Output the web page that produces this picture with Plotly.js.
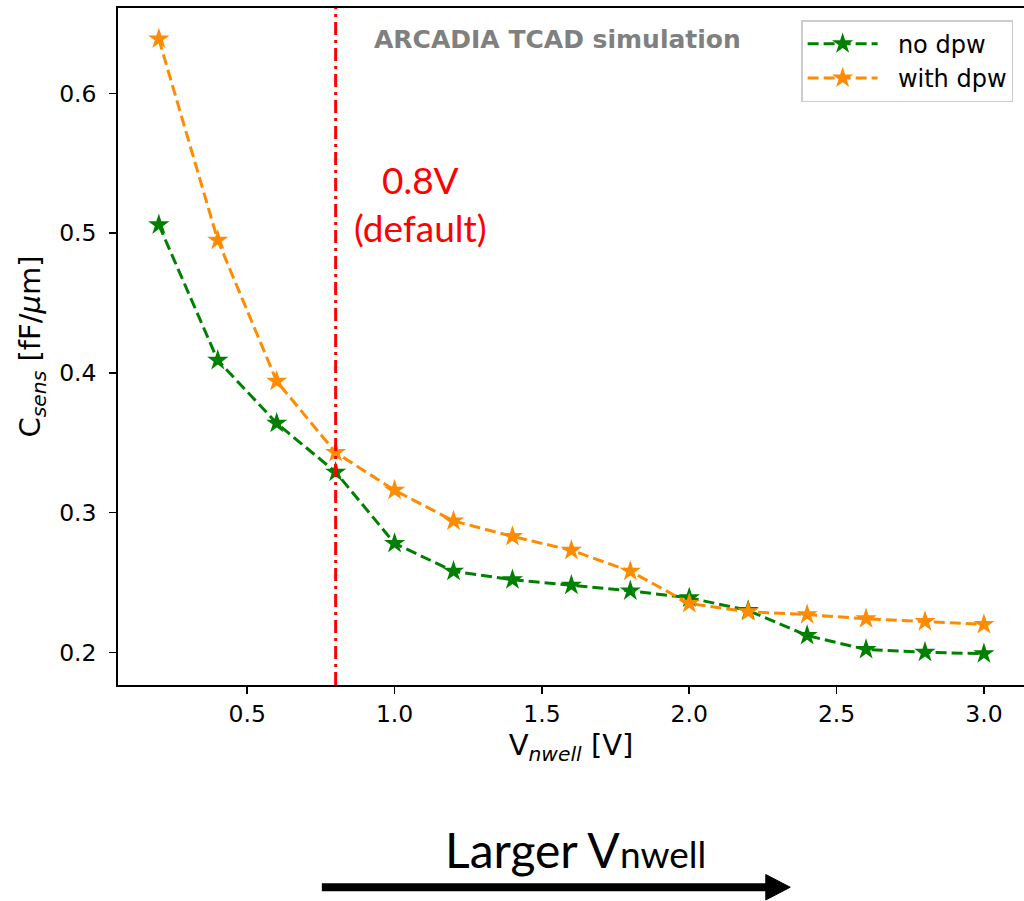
<!DOCTYPE html>
<html>
<head>
<meta charset="utf-8">
<script src="https://cdn.plot.ly/plotly-3.0.1.min.js"></script>
<style>
  html, body { margin: 0; padding: 0; background: #fff; }
  #chart { width: 1024px; height: 901px; }
</style>
</head>
<body>
<div id="chart"></div>
<script>
// Sensor capacitance versus n-well bias voltage
const vNwell = [0.2, 0.4, 0.6, 0.8, 1.0, 1.2, 1.4, 1.6, 1.8, 2.0, 2.2, 2.4, 2.6, 2.8, 3.0];
const csensNoDpw = [0.506, 0.409, 0.364, 0.329, 0.278, 0.258, 0.252, 0.248, 0.244, 0.239, 0.230, 0.212, 0.202, 0.200, 0.199];
const csensWithDpw = [0.639, 0.495, 0.394, 0.343, 0.316, 0.294, 0.283, 0.273, 0.258, 0.235, 0.229, 0.227, 0.224, 0.222, 0.220];
const seriesNames = ['no dpw', 'with dpw'];
const defaultBias = 0.8;
const yTicks = [0.2, 0.3, 0.4, 0.5, 0.6];
const xTicks = [0.5, 1.0, 1.5, 2.0, 2.5, 3.0];

const axisFont = { family: 'DejaVu Sans', size: 23.5, color: '#000' };
const labelFont = { family: 'DejaVu Sans', size: 29, color: '#000' };

// non-breaking spaces keep a gap between the legend sample and its label
const legendGap = '\u00a0\u00a0';

function series(y, name, color) {
  return {
    x: vNwell, y: y, name: legendGap + name, type: 'scatter', mode: 'lines+markers',
    line: { color: color, width: 3, dash: '11px,5px' },
    marker: { symbol: 'star', size: 16, color: color, line: { width: 0 } }
  };
}

const traces = [
  series(csensNoDpw, seriesNames[0], '#008000'),
  series(csensWithDpw, seriesNames[1], '#ff8c00')
];

const layout = {
  width: 1024, height: 901,
  margin: { l: 118, r: 0, t: 8, b: 216 },
  paper_bgcolor: '#fff', plot_bgcolor: '#fff',
  showlegend: true,
  legend: {
    x: 0.988, y: 0.982, xanchor: 'right', yanchor: 'top',
    bgcolor: '#fff', bordercolor: '#cccccc', borderwidth: 1.5,
    font: { family: 'DejaVu Sans', size: 24, color: '#000' },
    itemwidth: 70
  },
  xaxis: {
    range: [0.0614, 3.136],
    tickvals: xTicks, ticktext: xTicks.map(v => v.toFixed(1)),
    ticks: 'outside', ticklen: 7, tickwidth: 1.6, tickcolor: '#000',
    showline: true, linecolor: '#000', linewidth: 1.8, mirror: true,
    showgrid: false, zeroline: false,
    tickfont: axisFont,
    title: { text: 'V<sub><i>nwell</i></sub> [V]', font: labelFont, standoff: 8 }
  },
  yaxis: {
    range: [0.1766, 0.6612],
    tickvals: yTicks, ticktext: yTicks.map(v => v.toFixed(1)),
    ticks: 'outside', ticklen: 7, tickwidth: 1.6, tickcolor: '#000',
    showline: true, linecolor: '#000', linewidth: 1.8,
    showgrid: false, zeroline: false,
    ticklabelstandoff: 8,
    tickfont: axisFont,
    title: { text: 'C<sub><i>sens</i></sub> [fF/<i>μ</i>m]', font: labelFont, standoff: 10 }
  },
  shapes: [
    {
      type: 'line', xref: 'x', yref: 'paper', x0: defaultBias, x1: defaultBias, y0: 0, y1: 1,
      line: { color: '#ff0000', width: 3, dash: '13px,5px,3px,5px' }
    },
    {
      type: 'line', xref: 'paper', yref: 'paper', x0: 0.225, x1: 0.72, y0: -0.2987, y1: -0.2987,
      line: { color: '#000', width: 8 }
    },
    {
      type: 'path', xref: 'paper', yref: 'paper',
      path: 'M 0.715 -0.280 L 0.742 -0.2987 L 0.715 -0.3175 Z',
      fillcolor: '#000', line: { color: '#000', width: 1 }
    }
  ],
  annotations: [
    {
      text: '<b>ARCADIA TCAD simulation</b>', xref: 'paper', yref: 'paper',
      x: 0.485, y: 0.953, xanchor: 'center', yanchor: 'middle', showarrow: false,
      font: { family: 'DejaVu Sans', size: 25, color: '#808080' }
    },
    {
      text: '0.8V<br>(default)', xref: 'x', yref: 'paper',
      x: 1.088, y: 0.711, xanchor: 'center', yanchor: 'middle', showarrow: false,
      font: { family: 'Lato', size: 37, color: '#ff0000' }
    },
    {
      text: 'Larger V<span style="font-size:37px">nwell</span>', xref: 'paper', yref: 'paper',
      x: 0.505, y: -0.2426, xanchor: 'center', yanchor: 'middle', showarrow: false,
      font: { family: 'Lato', size: 48, color: '#000' }
    }
  ]
};

Plotly.newPlot('chart', traces, layout, { displayModeBar: false, staticPlot: true });
</script>
</body>
</html>
